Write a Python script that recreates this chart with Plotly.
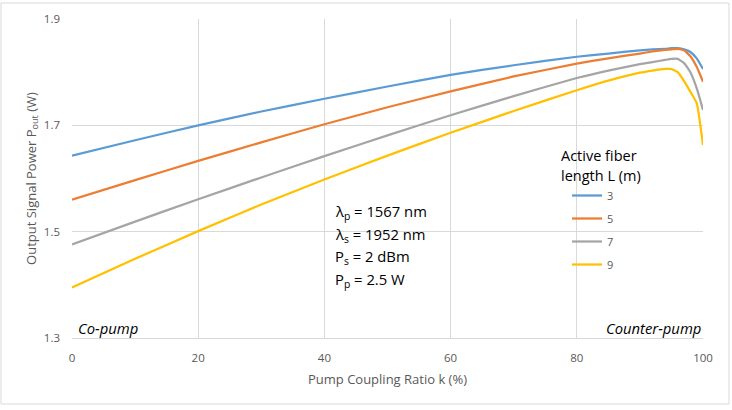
import plotly.graph_objects as go

k = [0, 10, 20, 30, 40, 50, 60, 70, 80, 85, 90, 92, 94, 95, 96, 97, 98, 99, 100]
L3 = [1.643, 1.672, 1.700, 1.726, 1.750, 1.773, 1.795, 1.813, 1.829, 1.835, 1.841, 1.843, 1.844, 1.845, 1.845, 1.843, 1.838, 1.826, 1.806]
L5 = [1.560, 1.597, 1.633, 1.668, 1.702, 1.734, 1.764, 1.792, 1.816, 1.826, 1.835, 1.839, 1.842, 1.843, 1.844, 1.841, 1.830, 1.810, 1.782]
L7 = [1.476, 1.519, 1.561, 1.602, 1.642, 1.681, 1.719, 1.755, 1.789, 1.803, 1.815, 1.819, 1.823, 1.825, 1.825, 1.817, 1.800, 1.770, 1.729]
L9 = [1.395, 1.449, 1.501, 1.551, 1.598, 1.643, 1.686, 1.727, 1.766, 1.784, 1.799, 1.803, 1.806, 1.806, 1.800, 1.783, 1.763, 1.742, 1.663]
names = ["3", "5", "7", "9"]
colors = ["#5B9BD5", "#ED7D31", "#A5A5A5", "#FFC000"]
y_ticks = [1.3, 1.5, 1.7, 1.9]
x_ticks = [0, 20, 40, 60, 80, 100]

FONT = "Open Sans"
W, H = 732, 410
L, R, T, B = 72, 29, 19, 72
PW, PH = W - L - R, H - T - B


def px(xp):
    return (xp - L) / PW


def py(yp):
    return (H - B - yp) / PH


fig = go.Figure()
for i, (name, ys, c) in enumerate(zip(names, [L3, L5, L7, L9], colors)):
    fig.add_trace(go.Scatter(x=k, y=ys, mode="lines", name=name, legendgroup=name,
                             line=dict(color=c, width=2.25, shape="spline", smoothing=0.4)))

fig.update_layout(
    width=W, height=H,
    margin=dict(l=L, r=R, t=T, b=B),
    paper_bgcolor="white", plot_bgcolor="white",
    font=dict(family=FONT, size=11, color="#595959"),
    xaxis=dict(range=[0, 100], tickvals=x_ticks, showgrid=True, gridcolor="#D9D9D9", gridwidth=1,
               zeroline=False, showline=True, linecolor="#D9D9D9", ticks="", ticklen=0,
               ticklabelstandoff=9,
               title=dict(text="Pump Coupling Ratio k (%)", font=dict(size=13, color="#595959"), standoff=11),
               tickfont=dict(size=11.5, color="#595959")),
    yaxis=dict(range=[1.3, 1.9], tickvals=y_ticks, tickformat=".1f", showgrid=True, gridcolor="#D9D9D9",
               zeroline=False, showline=False, ticks="", ticklabelstandoff=11,
               title=dict(text="Output Signal Power P<sub>out</sub> (W)", font=dict(size=13, color="#595959"), standoff=4),
               tickfont=dict(size=11.5, color="#595959")),
    legend=dict(x=px(567), y=py(181), xanchor="left", yanchor="top",
                bgcolor="rgba(0,0,0,0)", borderwidth=0,
                font=dict(size=11, color="#595959"), itemwidth=30, tracegroupgap=4),
    showlegend=True,
)

fig.add_annotation(x=px(559), y=py(155), xref="paper", yref="paper", text="Active fiber",
                   showarrow=False, xanchor="left", yanchor="middle",
                   font=dict(size=14.5, color="#000000", family=FONT))
fig.add_annotation(x=px(559), y=py(175), xref="paper", yref="paper", text="length L (m)",
                   showarrow=False, xanchor="left", yanchor="middle",
                   font=dict(size=14.5, color="#000000", family=FONT))

ann_lines = ["λ<sub>p</sub> = 1567 nm", "λ<sub>s</sub> = 1952 nm", "P<sub>s</sub> = 2 dBm", "P<sub>p</sub> = 2.5 W"]
for i, t in enumerate(ann_lines):
    fig.add_annotation(x=px(333), y=py(212 + 22.5 * i), xref="paper", yref="paper",
                       text=t, showarrow=False, xanchor="left", yanchor="middle",
                       font=dict(size=14.8, color="#000000", family=FONT))

fig.add_annotation(x=px(76), y=py(328), xref="paper", yref="paper",
                   text="<i>Co-pump</i>", showarrow=False, xanchor="left", yanchor="middle",
                   font=dict(size=14.8, color="#000000", family=FONT))
fig.add_annotation(x=px(703), y=py(328), xref="paper", yref="paper",
                   text="<i>Counter-pump</i>", showarrow=False, xanchor="right", yanchor="middle",
                   font=dict(size=14.8, color="#000000", family=FONT))

fig.add_shape(type="rect", xref="paper", yref="paper",
              x0=px(1), x1=px(729), y0=py(404), y1=py(3),
              line=dict(color="#D9D9D9", width=1), fillcolor="rgba(0,0,0,0)", layer="below")

fig.write_html("out.html")
